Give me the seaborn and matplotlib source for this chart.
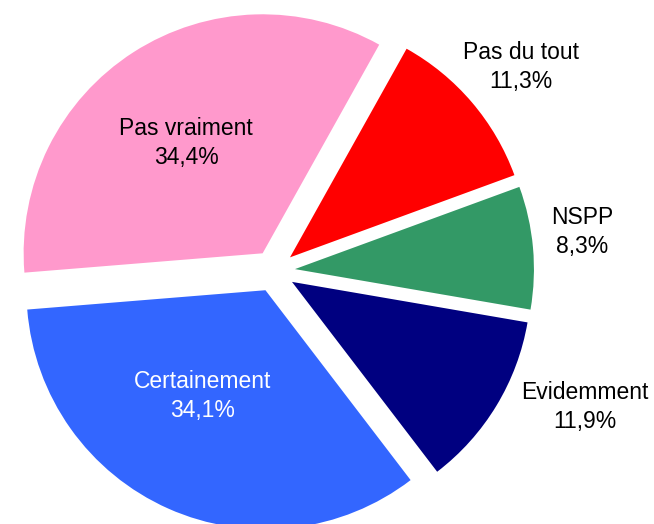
import numpy as np
import matplotlib
matplotlib.use("Agg")
import matplotlib.pyplot as plt
import seaborn as sns

# data (clockwise from the top)
categories = ['Pas du tout', 'NSPP', 'Evidemment', 'Certainement', 'Pas vraiment']
values = [11.3, 8.3, 11.9, 34.1, 34.4]
value_labels = ['11,3%', '8,3%', '11,9%', '34,1%', '34,4%']
colors = ['#FF0000', '#339966', '#000080', '#3366FF', '#FF99CC']
text_colors = ['black', 'black', 'black', 'white', 'black']

# label placement in pie units (pie radius = 1)
label_xy = [(1.033, 0.854), (1.289, 0.163), (1.301, -0.569),
            (-0.297, -0.523), (-0.368, 0.536)]

sns.set_theme(style='white')
plt.rcParams['font.family'] = ['Liberation Sans', 'DejaVu Sans']

fig = plt.figure(figsize=(6.54, 5.24), dpi=100)
# center of the pie at (274, 271) px, radius ~239 px
R = 239
ax = fig.add_axes([(274 - R) / 654, (524 - 271 - R) / 524, 2 * R / 654, 2 * R / 524])

wedges, _ = ax.pie(values, colors=colors, startangle=60.8, counterclock=False,
                   explode=[0.088] * len(values), radius=1,
                   wedgeprops=dict(linewidth=0))
for w in wedges:
    w.set_clip_on(False)

for (x, y), cat, lab, tc in zip(label_xy, categories, value_labels, text_colors):
    ax.text(x, y, f'{cat}\n{lab}', ha='center', va='center', fontsize=16.5,
            color=tc, linespacing=1.3, clip_on=False)

ax.set_xlim(-1, 1)
ax.set_ylim(-1, 1)
ax.set_aspect('equal')
ax.axis('off')

fig.savefig('out.png', dpi=100)
